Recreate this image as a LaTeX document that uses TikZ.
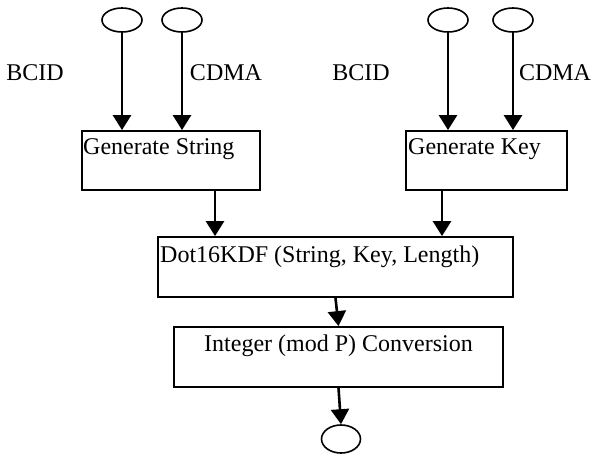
\documentclass[tikz,border=0pt]{standalone}
\usepackage{fontspec}
\setmainfont{Liberation Serif}
\usetikzlibrary{arrows.meta,shapes.geometric}
\begin{document}
\begin{tikzpicture}[x=1pt,y=-1pt,
  every node/.style={font=\fontsize{24}{29}\selectfont},
  box/.style={draw,line width=1.8pt,rectangle,inner sep=0pt},
  oval/.style={draw,line width=1.6pt,ellipse,inner sep=0pt,minimum width=40pt,minimum height=24pt},
  arr/.style={line width=2.6pt,-{Triangle[width=18pt,length=15pt]}},
  lbl/.style={inner sep=0pt,anchor=west}]
\useasboundingbox (0,0) rectangle (594,456);
% top ovals
\node[oval] (e1) at (122,20) {};
\node[oval] (e2) at (182,20) {};
\node[oval] (e3) at (448,20) {};
\node[oval] (e4) at (513,20) {};
% labels
\node[inner sep=0pt] (l1) at (35,73) {BCID};
\node[inner sep=0pt] (l2) at (226,73) {CDMA};
\node[inner sep=0pt] (l3) at (361,73) {BCID};
\node[inner sep=0pt] (l4) at (555,73) {CDMA};
% boxes
\node[box,minimum width=178pt,minimum height=59pt] (gs) at (171,160.5) {};
\node[lbl] (gst) at (83,149) {Generate String};
\node[box,minimum width=161pt,minimum height=59pt] (gk) at (486.5,160.5) {};
\node[lbl] (gkt) at (408,149) {Generate Key};
\node[box,minimum width=355pt,minimum height=60pt] (dot) at (335.5,267) {};
\node[lbl] (dott) at (160,257) {Dot16KDF (String, Key, Length)};
\node[box,minimum width=329pt,minimum height=60pt] (int) at (338.5,357) {};
\node (intt) at (338.5,346) {Integer (mod P) Conversion};
\node[oval,minimum width=39pt,minimum height=28pt] (bot) at (341,439) {};
% arrows
\draw[arr] (e1.south) -- (e1.south |- gs.north);
\draw[arr] (e2.south) -- (e2.south |- gs.north);
\draw[arr] (e3.south) -- (e3.south |- gk.north);
\draw[arr] (e4.south) -- (e4.south |- gk.north);
\draw[arr] ([xshift=44pt]gs.south) -- ([xshift=44pt]gs.south |- dot.north);
\draw[arr] ([xshift=-44.5pt]gk.south) -- ([xshift=-44.5pt]gk.south |- dot.north);
\draw[arr] (dot.south) -- (int.north);
\draw[arr] (int.south) -- (bot.north);
\end{tikzpicture}
\end{document}
